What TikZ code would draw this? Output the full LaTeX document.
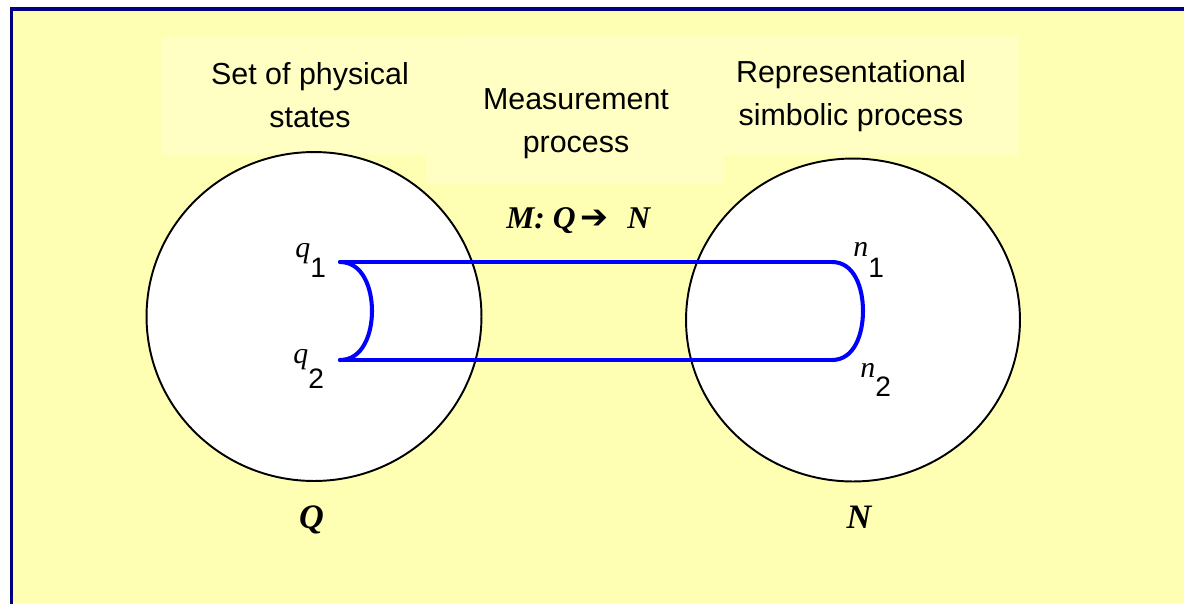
\documentclass[tikz,border=0pt]{standalone}
\usepackage{graphicx}
\usepackage{fontspec}
\setmainfont{Liberation Sans}
\newfontfamily\tmsfont{Liberation Serif}
\newfontfamily\symbfont{DejaVu Sans}
\usetikzlibrary{shapes.geometric}
\definecolor{panelbg}{RGB}{255,255,180}
\definecolor{labelbg}{RGB}{255,255,196}
\definecolor{framenavy}{RGB}{0,0,128}
\definecolor{mapblue}{RGB}{0,0,255}

% element with an index set below it
\newcommand{\elem}[3]{{\tmsfont\itshape #1}\raisebox{#3}{\fontsize{16}{16}\selectfont #2}}

\begin{document}
\begin{tikzpicture}[
    x=0.02cm, y=-0.02cm,
    every node/.style={inner sep=0pt},
    caption/.style={align=center, font=\fontsize{17.3}{24.4}\selectfont},
    setshape/.style={draw, ellipse, fill=white, line width=1.1pt},
    elemlabel/.style={anchor=base west, font=\fontsize{17}{17}\selectfont},
    setname/.style={anchor=base, font=\tmsfont\bfseries\itshape\fontsize{19.5}{20}\selectfont},
    mapline/.style={draw=mapblue, line width=2.3pt, line cap=round},
]
    \useasboundingbox (0,0) rectangle (1184,603);
    \clip (0,0) rectangle (1184,603);

    % Panel and label backgrounds
    \fill[panelbg] (11,9) rectangle (1184,603);
    \draw[framenavy, line width=1.9pt] (11.7,9) rectangle (1300,700);
    \fill[labelbg] (162,37) rectangle (461,155);
    \fill[labelbg] (427,63) rectangle (724,183);
    \fill[labelbg] (462,35) rectangle (682,63);
    \fill[labelbg] (682,35) rectangle (1019,155);

    % Captions
    \node[caption] (physcap) at (310,95.5) {Set of physical\\states};
    \node[caption] (meascap) at (576,123.7) {Measurement\\process};
    \node[caption] (reprcap) at (851,95.7) {Representational\\simbolic process};

    % The two sets
    \node[setshape, minimum width=6.7cm, minimum height=6.58cm] (setQ) at (314,316.5) {};
    \node[setshape, minimum width=6.68cm, minimum height=6.46cm] (setN) at (853,320) {};
    \node[setname] (nameQ) at (311.5,528) {Q};
    \node[setname] (nameN) at (859,528) {N};

    % Mapping
    \node[anchor=base west] (maplabel) at (506,228) {\fontsize{18}{18}\selectfont\tmsfont\bfseries\itshape M: Q\hspace{0.15em}{\symbfont\upshape\mdseries\fontsize{19}{19}\selectfont ➔}\hspace{0.6em}N};
    \coordinate (q1) at (340,262);
    \coordinate (q2) at (340,360);
    \coordinate (n1) at (832,262);
    \coordinate (n2) at (832,360);
    \coordinate (qmid) at (372,311);
    \coordinate (nmid) at (863,311);
    \draw[mapline] (q1) -- (n1);
    \draw[mapline] (q2) -- (n2);
    \draw[mapline] (q1) to[out=0, in=90] (qmid) to[out=-90, in=0] (q2);
    \draw[mapline] (n1) to[out=0, in=90] (nmid) to[out=-90, in=0] (n2);

    \node[elemlabel] (lq1) at (295,257) {\elem{q}{1}{-11.9pt}};
    \node[elemlabel] (lq2) at (293,363) {\elem{q}{2}{-14.5pt}};
    \node[elemlabel] (ln1) at (853,256) {\elem{n}{1}{-12.5pt}};
    \node[elemlabel] (ln2) at (860,377) {\elem{n}{2}{-11.3pt}};
\end{tikzpicture}
\end{document}
